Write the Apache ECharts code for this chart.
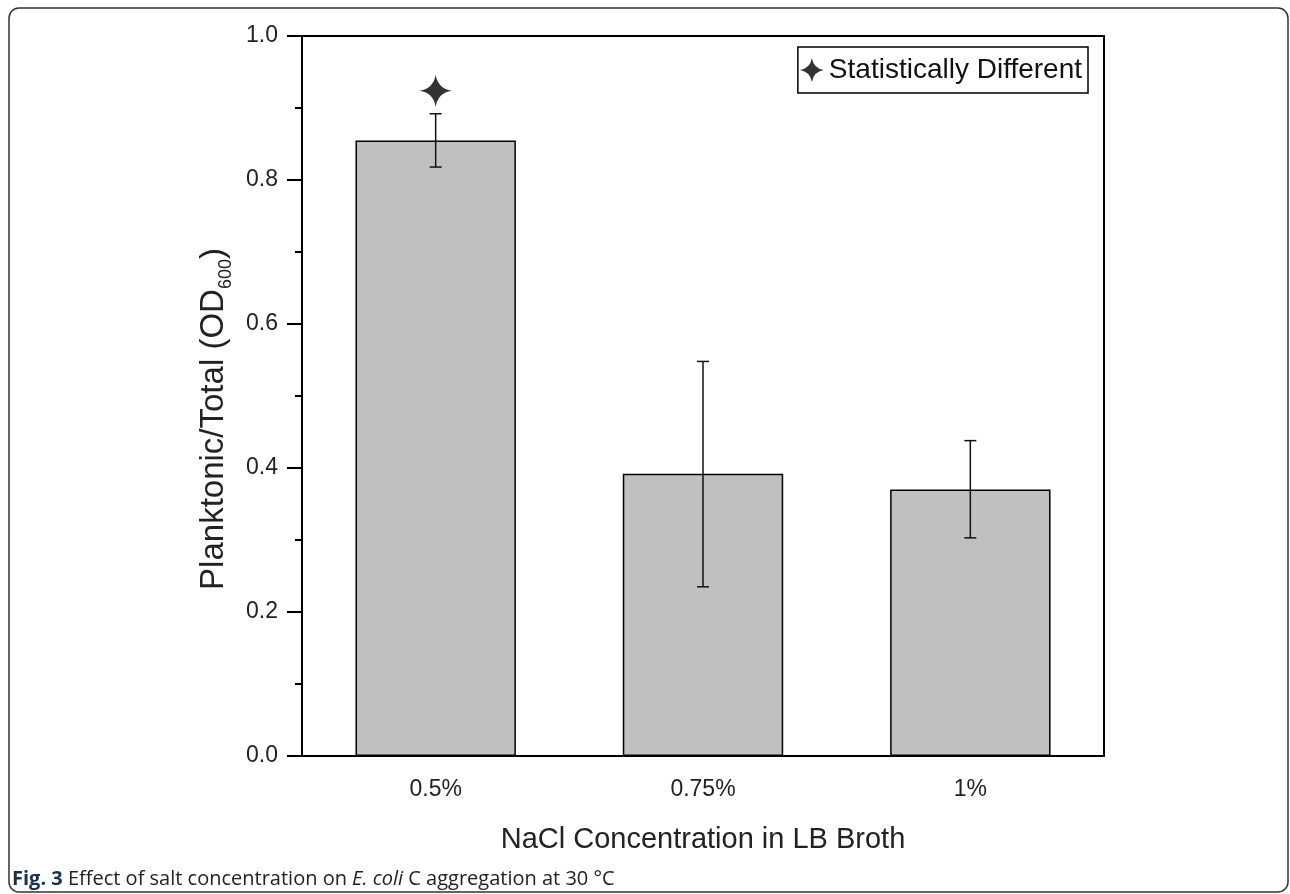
<!DOCTYPE html>
<html>
<head>
<meta charset="utf-8">
<script src="https://cdn.jsdelivr.net/npm/echarts@6/dist/echarts.min.js"></script>
<style>
  html, body { margin: 0; padding: 0; background: #fff; }
  #chart { width: 1290px; height: 894px; }
</style>
</head>
<body>
<div id="chart"></div>
<script>
  // values
  var categories = ['0.5%', '0.75%', '1%'];
  var means = [0.855, 0.392, 0.370];
  var errLow = [0.818, 0.235, 0.303];
  var errHigh = [0.892, 0.548, 0.438];
  var starCats = ['0.5%'];
  var starValues = [0.924];

  var starPath = 'path://M0,-10 Q1.4,-1.4 10,0 Q1.4,1.4 0,10 Q-1.4,1.4 -10,0 Q-1.4,-1.4 0,-10 Z';
  var font = '"Liberation Sans", Arial, sans-serif';
  var capFont = '"Open Sans", sans-serif';

  var errData = categories.map(function (c, i) { return [i, errLow[i], errHigh[i]]; });
  var starData = starCats.map(function (c, i) { return [c, starValues[i]]; });

  var dom = document.getElementById('chart');
  var myChart = echarts.init(dom, null, { renderer: 'canvas' });

  var option = {
    animation: false,
    backgroundColor: '#fff',
    grid: { left: 302, right: 186, top: 36, bottom: 138 },
    legend: {
      data: ['Statistically Different'],
      right: 202,
      top: 47,
      itemWidth: 24,
      itemHeight: 24,
      padding: [9, 6, 9, 2],
      borderColor: '#000',
      borderWidth: 1.5,
      borderRadius: 0,
      textStyle: { fontFamily: font, fontSize: 28, color: '#111' }
    },
    xAxis: [
      {
        type: 'category',
        data: categories,
        axisLine: { lineStyle: { color: '#000', width: 2 } },
        axisTick: { alignWithLabel: true, length: 12, lineStyle: { color: '#000', width: 2 } },
        axisLabel: { fontFamily: font, fontSize: 23, color: '#222', margin: 22 },
        name: 'NaCl Concentration in LB Broth',
        nameLocation: 'middle',
        nameGap: 69,
        nameTextStyle: { fontFamily: font, fontSize: 29, color: '#222' }
      },
      {
        type: 'category',
        data: categories,
        position: 'top',
        axisLine: { onZero: false, lineStyle: { color: '#000', width: 2 } },
        axisTick: { show: false },
        axisLabel: { show: false }
      }
    ],
    yAxis: [
      {
        type: 'value',
        min: 0,
        max: 1,
        interval: 0.2,
        axisLine: { show: true, lineStyle: { color: '#000', width: 2 } },
        axisTick: { show: true, length: 15, lineStyle: { color: '#000', width: 2 } },
        minorTick: { show: true, splitNumber: 2, length: 7, lineStyle: { color: '#000', width: 2 } },
        splitLine: { show: false },
        axisLabel: {
          fontFamily: font, fontSize: 23, color: '#222', margin: 24,
          formatter: function (v) { return v.toFixed(1); }
        },
        name: '{a|Planktonic/Total (OD}{s|600}{a|)}',
        nameLocation: 'middle',
        nameGap: 62,
        nameRotate: 90,
        nameTextStyle: {
          padding: [0, 46, 0, 0],
          rich: {
            a: { fontFamily: font, fontSize: 33, color: '#222', lineHeight: 42 },
            s: { fontFamily: font, fontSize: 18, color: '#222', verticalAlign: 'bottom', lineHeight: 18 }
          }
        }
      },
      {
        type: 'value',
        min: 0,
        max: 1,
        position: 'right',
        axisLine: { show: true, onZero: false, lineStyle: { color: '#000', width: 2 } },
        axisTick: { show: false },
        axisLabel: { show: false },
        splitLine: { show: false }
      }
    ],
    series: [
      {
        name: 'mean',
        type: 'bar',
        data: means,
        barWidth: '60%',
        itemStyle: { color: '#c0c0c0', borderColor: '#000', borderWidth: 1.5 }
      },
      {
        name: 'error',
        type: 'custom',
        data: errData,
        z: 5,
        renderItem: function (params, api) {
          var x = api.value(0);
          var lo = api.coord([x, api.value(1)]);
          var hi = api.coord([x, api.value(2)]);
          var w = 6;
          var st = { stroke: '#111', lineWidth: 1.5 };
          return {
            type: 'group',
            children: [
              { type: 'line', shape: { x1: lo[0], y1: lo[1], x2: hi[0], y2: hi[1] }, style: st },
              { type: 'line', shape: { x1: hi[0] - w, y1: hi[1], x2: hi[0] + w, y2: hi[1] }, style: st },
              { type: 'line', shape: { x1: lo[0] - w, y1: lo[1], x2: lo[0] + w, y2: lo[1] }, style: st }
            ]
          };
        }
      },
      {
        name: 'Statistically Different',
        type: 'scatter',
        data: starData,
        symbol: starPath,
        symbolSize: 32,
        itemStyle: { color: '#000' }
      }
    ],
    graphic: [
      {
        type: 'rect',
        shape: { x: 9, y: 8, width: 1279, height: 884, r: 10 },
        style: { fill: null, stroke: '#333', lineWidth: 1.5 },
        silent: true
      },
      {
        type: 'text',
        left: 12,
        top: 869,
        style: {
          text: '{b|Fig. 3} Effect of salt concentration on {i|E. coli} C aggregation at 30 °C',
          fontFamily: capFont,
          fontSize: 20,
          fill: '#222',
          rich: {
            b: { fontFamily: capFont, fontSize: 20, fontWeight: 'bold', fill: '#1a3050' },
            i: { fontFamily: capFont, fontSize: 20, fontStyle: 'italic', fill: '#222' }
          }
        }
      }
    ]
  };

  myChart.setOption(option, true);
</script>
</body>
</html>
